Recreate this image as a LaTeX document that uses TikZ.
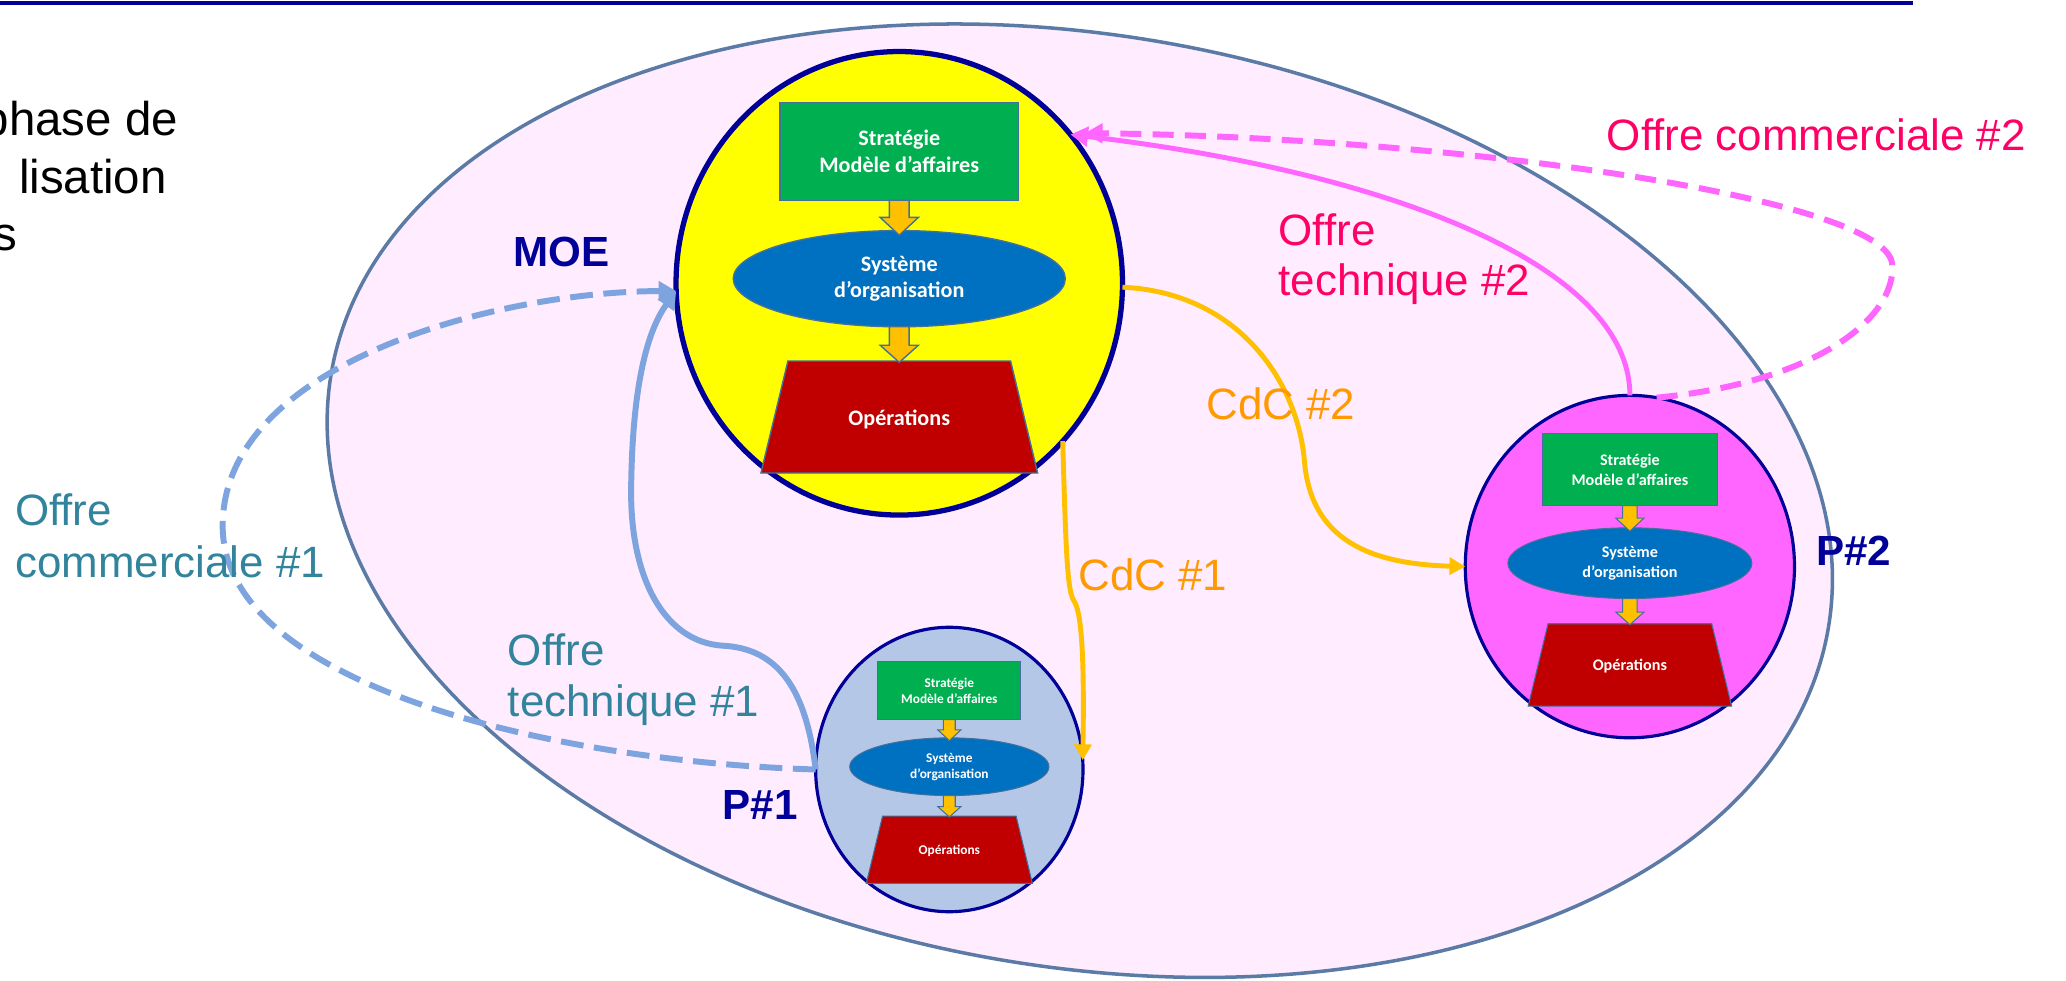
\documentclass[tikz,border=0pt]{standalone}
\usepackage{fontspec}
\setmainfont{Liberation Sans}
\newfontfamily\carlito{Carlito}
\usetikzlibrary{shapes.geometric,arrows.meta}
\definecolor{navy}{RGB}{0,0,153}
\definecolor{bigfill}{RGB}{255,236,255}
\definecolor{bigline}{RGB}{91,123,166}
\definecolor{moeyellow}{RGB}{255,255,0}
\definecolor{pOnefill}{RGB}{180,199,231}
\definecolor{pTwofill}{RGB}{255,102,255}
\definecolor{stratgreen}{RGB}{0,176,80}
\definecolor{sysblue}{RGB}{0,112,192}
\definecolor{opsred}{RGB}{192,0,0}
\definecolor{arrowgold}{RGB}{255,192,0}
\definecolor{shapeline}{RGB}{65,113,156}
\definecolor{lineblue}{RGB}{126,164,224}
\definecolor{lineorange}{RGB}{255,192,0}
\definecolor{linemagenta}{RGB}{255,102,255}
\definecolor{txtteal}{RGB}{49,132,155}
\definecolor{txtmagenta}{RGB}{255,0,102}
\definecolor{txtorange}{RGB}{255,153,0}

% #1 prefix, #2 cx, #3 cy, #4 scale, #5 font size, #6 baselineskip, #7 border width
\newcommand{\orgdiag}[7]{%
  \begin{scope}[shift={(#2,#3)}, scale=#4]
    \draw[line width=#7, draw=shapeline, fill=stratgreen] (-90.5,-137) rectangle (90.5,-63);
    \draw[line width=#7, draw=shapeline, fill=sysblue] (0,-3.5) ellipse [x radius=126, y radius=36.5];
    \draw[line width=#7, draw=shapeline, fill=opsred] (-84.5,59) -- (84.5,59) -- (105,144) -- (-105,144) -- cycle;
    \draw[line width=#7, draw=shapeline, fill=arrowgold] (-7.5,-63) -- (7.5,-63) -- (7.5,-50) -- (14.5,-50) -- (0,-36.5) -- (-14.5,-50) -- (-7.5,-50) -- cycle;
    \draw[line width=#7, draw=shapeline, fill=arrowgold] (-7.5,33) -- (7.5,33) -- (7.5,47) -- (14.5,47) -- (0,60) -- (-14.5,47) -- (-7.5,47) -- cycle;
    \node[intxt, font=\carlito\bfseries\fontsize{#5}{#6}\selectfont] (#1strat) at (0,-100) {Stratégie\\Modèle d’affaires};
    \node[intxt, font=\carlito\bfseries\fontsize{#5}{#6}\selectfont] (#1sys) at (0,-3.5) {Système\\d’organisation};
    \node[intxt, font=\carlito\bfseries\fontsize{#5}{#6}\selectfont] (#1ops) at (0,103) {Opérations};
  \end{scope}}

\begin{document}
\begin{tikzpicture}[x=0.013176cm, y=-0.013176cm,
  intxt/.style={text=white, align=center, inner sep=0pt},
  lbl/.style={anchor=base west, inner sep=0pt, font=\fontsize{12.5pt}{15pt}\selectfont},
  idlbl/.style={anchor=base west, inner sep=0pt, text=navy, font=\bfseries\fontsize{12pt}{14pt}\selectfont},
  blacktxt/.style={anchor=base east, inner sep=0pt, text=black, font=\fontsize{13.5pt}{16pt}\selectfont},
  circ/.style={ellipse, draw=navy, inner sep=0pt, outer sep=0pt},
  tipA/.style={-{Triangle[length=5pt,width=5.5pt]}},
  bluesolid/.style={draw=lineblue, line width=1.7pt, tipA},
  bluedash/.style={draw=lineblue, line width=1.7pt, dash pattern=on 6.5pt off 3pt, tipA},
  orangeline/.style={draw=lineorange, line width=1.4pt, -{Triangle[length=4.5pt,width=4.8pt]}},
  magsolid/.style={draw=linemagenta, line width=1.4pt, tipA},
  magdash/.style={draw=linemagenta, line width=1.7pt, dash pattern=on 6pt off 3.2pt, tipA}]
\useasboundingbox (0,0) rectangle (1568,744);

% outer ellipse
\node[ellipse, draw=bigline, fill=bigfill, line width=1pt, minimum width=15.195cm, minimum height=9.323cm, rotate=-9.66, inner sep=0pt] (outer) at (819.5,380) {};

% top rule
\draw[navy, line width=1.2pt] (0,2) -- (1452,2);

% circles
\node[circ, fill=moeyellow, line width=1.5pt, minimum width=4.467cm, minimum height=4.638cm] (moe) at (682.5,215) {};
\orgdiag{m}{682.5}{215}{1}{6.3pt}{7.6pt}{0.4pt}
\node[circ, fill=pOnefill, line width=0.9pt, minimum width=2.675cm, minimum height=2.846cm] (p1) at (720.5,584) {};
\orgdiag{a}{720.5}{584}{0.6}{3.8pt}{4.55pt}{0.3pt}
\node[circ, fill=pTwofill, line width=0.9pt, minimum width=3.294cm, minimum height=3.426cm] (p2) at (1237,430) {};
\orgdiag{b}{1237}{430}{0.735}{4.6pt}{5.55pt}{0.3pt}

% connectors
\draw[bluedash] (p1.west) .. controls (420,578) and (170,520) .. (169,400) .. controls (168,275) and (380,221) .. (moe.182);
\draw[bluesolid] (p1.west) .. controls (612,525) and (592,492) .. (548,490) .. controls (505,487) and (478,440) .. (479,370) .. controls (480,290) and (492,250) .. (moe.182);
\draw[orangeline] (moe.-44) .. controls (809,420) and (810,448) .. (815,456) .. controls (821,464) and (823,500) .. (p1.4);
\draw[orangeline] (moe.359) .. controls (940,222) and (985,290) .. (990,350) .. controls (995,410) and (1040,428) .. (p2.west);
\draw[magsolid] (p2.north) .. controls (1237,200) and (1050,130) .. (moe.41);
\draw[magdash] (p2.81) .. controls (1380,290) and (1440,240) .. (1436,200) .. controls (1430,150) and (1100,104) .. ([shift={(11,-1)}]moe.41);

% labels
\node[blacktxt] (t1) at (135.5,102.5) {phase de};
\node[blacktxt] (t2) at (127,146.5) {lisation};
\node[blacktxt] (t3) at (13.7,190) {s};

\node[idlbl] (lmoe) at (389,202) {MOE};
\node[idlbl] (lp1) at (548,622) {P\#1};
\node[idlbl] (lp2) at (1378,429) {P\#2};

\node[lbl, text=txtmagenta] (oc2) at (1219,114.5) {Offre commerciale \#2};
\node[lbl, text=txtmagenta] (ot2a) at (970,186) {Offre};
\node[lbl, text=txtmagenta] (ot2b) at (970,224) {technique \#2};
\node[lbl, text=txtorange] (cdc2) at (915,318) {CdC \#2};
\node[lbl, text=txtorange] (cdc1) at (818,448) {CdC \#1};
\node[lbl, text=txtteal] (oc1a) at (11,399) {Offre};
\node[lbl, text=txtteal] (oc1b) at (11,438) {commerciale \#1};
\node[lbl, text=txtteal] (ot1a) at (385,505) {Offre};
\node[lbl, text=txtteal] (ot1b) at (385,544) {technique \#1};
\end{tikzpicture}
\end{document}
